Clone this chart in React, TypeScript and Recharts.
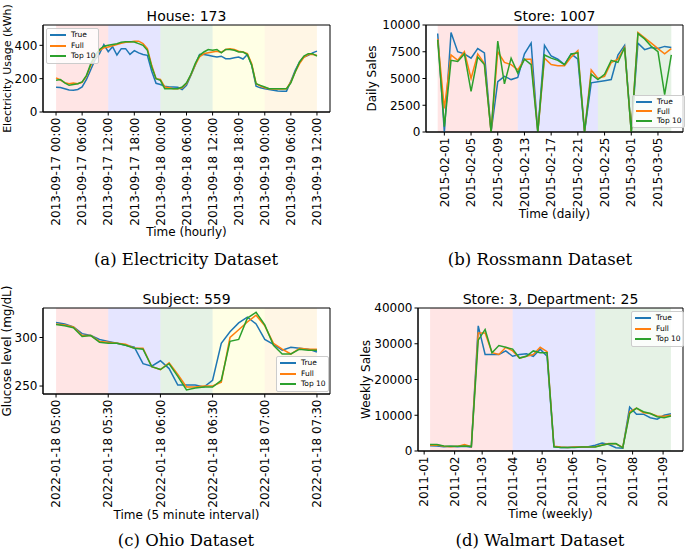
import React from "react";
import { LineChart, Line, XAxis, YAxis, ReferenceArea, Legend } from "recharts";

const C_TRUE = "#1f77b4";
const C_FULL = "#ff7f0e";
const C_TOP = "#2ca02c";
const FONT = "DejaVu Sans, sans-serif";
const BAND_COLORS = ["red", "blue", "green", "yellow", "orange"];
const SERIES_ORDER = ["True", "Full", "Top 10"];

// (a) Electricity, hourly, hour 0 = 2013-09-17 00:00
const trueA = [148, 147, 140, 132, 131, 135, 150, 195, 255, 315, 350, 405, 362, 392, 342, 380, 380, 346, 368, 355, 345, 340, 245, 172, 165, 155, 150, 150, 148, 135, 160, 220, 280, 345, 345, 340, 335, 330, 335, 320, 320, 325, 330, 318, 345, 280, 155, 145, 140, 135, 130, 126, 125, 125, 185, 250, 300, 330, 340, 355, 365];
const fullA = [205, 192, 176, 170, 174, 170, 178, 215, 280, 330, 370, 385, 390, 398, 405, 412, 418, 420, 425, 425, 410, 380, 280, 200, 195, 150, 145, 140, 140, 145, 170, 222, 282, 330, 350, 355, 360, 365, 358, 375, 380, 375, 365, 360, 350, 290, 170, 155, 145, 140, 138, 138, 138, 140, 180, 240, 290, 328, 345, 345, 340];
const topA = [190, 195, 175, 160, 165, 170, 180, 220, 290, 340, 375, 395, 400, 405, 410, 418, 422, 422, 420, 410, 400, 370, 270, 200, 190, 140, 140, 140, 140, 150, 175, 225, 290, 340, 360, 375, 370, 375, 355, 375, 375, 370, 360, 360, 345, 280, 170, 160, 150, 140, 140, 140, 140, 140, 175, 240, 300, 335, 350, 350, 335];
const ticksA = [0, 6, 12, 18, 24, 30, 36, 42, 48, 54, 60];
const labelsA = ["2013-09-17 00:00", "2013-09-17 06:00", "2013-09-17 12:00", "2013-09-17 18:00", "2013-09-18 00:00", "2013-09-18 06:00", "2013-09-18 12:00", "2013-09-18 18:00", "2013-09-19 00:00", "2013-09-19 06:00", "2013-09-19 12:00"];
const bandsA: [number, number][] = [[0, 12], [12, 24], [24, 36], [36, 48], [48, 60]];

// (b) Rossmann, daily, day 0 = 2015-02-01 (first point is 2015-01-31)
const trueB = [9200, 0, 9300, 7500, 7300, 6900, 7800, 7400, 0, 4700, 5200, 4900, 5100, 7300, 8300, 0, 8100, 7100, 6800, 6300, 7300, 6800, 0, 4600, 4700, 4800, 4900, 7200, 8100, 0, 8300, 7700, 7900, 7800, 8000, 7900];
const fullB = [8700, 2200, 7200, 6700, 7500, 5000, 7300, 6400, 0, 7500, 6500, 6300, 5800, 6800, 6800, 0, 6900, 6300, 6200, 6200, 7000, 7600, 0, 5800, 5000, 5200, 6500, 6800, 7900, 0, 9300, 8800, 8300, 7800, 7300, 7800];
const topB = [8600, 500, 6700, 6600, 7300, 3800, 7000, 6300, 0, 8500, 4500, 6900, 5500, 6800, 6300, 0, 7200, 6900, 6700, 6300, 7300, 7400, 0, 5400, 4900, 5400, 6700, 6500, 7900, 0, 9200, 8700, 8000, 7500, 3500, 7200];
const ticksB = [0, 4, 8, 12, 16, 20, 24, 28, 32];
const labelsB = ["2015-02-01", "2015-02-05", "2015-02-09", "2015-02-13", "2015-02-17", "2015-02-21", "2015-02-25", "2015-03-01", "2015-03-05"];
const bandsB: [number, number][] = [[-1, 11], [11, 23], [23, 34]];

// (c) Ohio, 5 minute steps, step 0 = 2022-01-18 05:00
const trueC = [315.4, 314, 311, 304, 302, 298, 296, 294, 292, 290, 273, 270.5, 276, 268, 251, 251, 251, 249, 256, 294, 306, 315, 321, 314, 298, 293, 287, 290, 289, 288, 285];
const fullC = [314, 313, 311, 302, 302, 296, 295, 294, 293, 289, 289, 270, 267, 274, 262, 249, 249, 250, 250, 254, 300, 308, 316, 323, 312, 294, 288, 283, 289, 288, 288];
const topC = [313.5, 312, 310, 301, 302, 295, 294, 294, 292, 289, 288, 270, 267, 273, 260, 246, 248, 249, 249, 256, 296, 298, 320, 326, 313, 292, 283, 283, 288, 287, 287];
const ticksC = [0, 6, 12, 18, 24, 30];
const labelsC = ["2022-01-18 05:00", "2022-01-18 05:30", "2022-01-18 06:00", "2022-01-18 06:30", "2022-01-18 07:00", "2022-01-18 07:30"];
const bandsC: [number, number][] = [[0, 6], [6, 12], [12, 18], [18, 24], [24, 30]];

// (d) Walmart, weekly (Fridays from 2011-01-07), x = days since 2011-01-01
const trueD = [1500, 1400, 1200, 1300, 1200, 1300, 1100, 35000, 27000, 27000, 27000, 28000, 26500, 27000, 27200, 26500, 28500, 26500, 1200, 1000, 1000, 1100, 1100, 1200, 1600, 2200, 1800, 900, 800, 12300, 10300, 10300, 9300, 8900, 10000, 10400];
const fullD = [1600, 1700, 1300, 1200, 1300, 1800, 1200, 33000, 33000, 27500, 27000, 29000, 28000, 26000, 26500, 27000, 29000, 27800, 1300, 1100, 1000, 1100, 1100, 1100, 1200, 1700, 2100, 2000, 1000, 11000, 12000, 10700, 10500, 9800, 9700, 10000];
const topD = [1800, 1800, 1400, 1300, 1300, 1400, 1300, 31000, 34000, 27500, 29500, 29000, 28500, 26000, 26500, 28000, 27500, 27500, 1200, 1000, 1000, 1000, 1100, 1100, 1100, 1600, 2000, 2100, 900, 10500, 12000, 11000, 10500, 9600, 9300, 9800];
const ticksD = [0, 31, 59, 90, 120, 151, 181, 212, 243];
const labelsD = ["2011-01", "2011-02", "2011-03", "2011-04", "2011-05", "2011-06", "2011-07", "2011-08", "2011-09"];
const bandsD: [number, number][] = [[6, 90], [90, 174], [174, 251]];

type Row = { x: number; t: number; f: number; p: number };

const rowsA: Row[] = trueA.map((v, i) => ({ x: i, t: v, f: fullA[i], p: topA[i] }));
const rowsB: Row[] = trueB.map((v, i) => ({ x: i - 1, t: v, f: fullB[i], p: topB[i] }));
const rowsC: Row[] = trueC.map((v, i) => ({ x: i, t: v, f: fullC[i], p: topC[i] }));
const rowsD: Row[] = trueD.map((v, i) => ({ x: 6 + 7 * i, t: v, f: fullD[i], p: topD[i] }));

function rotatedTick(ticks: number[], labels: string[]) {
  return (props: any) => {
    const { x, y, payload } = props;
    const i = ticks.indexOf(payload.value);
    return (
      <text
        x={x}
        y={y}
        transform={`rotate(-90, ${x}, ${y})`}
        textAnchor="end"
        dy="0.35em"
        fontSize={12}
        fontFamily={FONT}
        fill="#000"
      >
        {labels[i]}
      </text>
    );
  };
}

function LegendBox({ payload, rowH }: { payload?: any[]; rowH: number }) {
  // recharts sorts legend items by name; put them back in plotting order
  const items = [...(payload || [])].sort(
    (a, b) => SERIES_ORDER.indexOf(a.value) - SERIES_ORDER.indexOf(b.value)
  );
  return (
    <div
      style={{
        border: "1px solid #cccccc",
        borderRadius: 2,
        background: "rgba(255,255,255,0.8)",
        padding: "1px 2px 1px 3px",
        fontFamily: FONT,
        fontSize: 7.5,
        lineHeight: `${rowH}px`,
        color: "#000",
      }}
    >
      {items.map((e: any) => (
        <div key={e.value} style={{ display: "flex", alignItems: "center", whiteSpace: "nowrap" }}>
          <span style={{ display: "inline-block", flexShrink: 0, width: 16, height: 2, background: e.color, marginRight: 5 }} />
          <span>{e.value}</span>
        </div>
      ))}
    </div>
  );
}

interface PanelProps {
  left: number;
  top: number;
  width: number;
  height: number;
  marginTop: number;
  marginRight: number;
  yWidth: number;
  xHeight: number;
  data: Row[];
  xDomain: [number, number];
  yDomain: [number, number];
  xTicks: number[];
  xLabels: string[];
  yTicks: number[];
  bands: [number, number][];
  xLabel: string;
  yLabel: string;
  yLabelOffset: number;
  yLabelSize: number;
  title: string;
  legendLeft: number;
  legendTop: number;
  legendRowH: number;
}

function Panel(p: PanelProps) {
  const plotLeft = p.yWidth;
  const plotWidth = p.width - p.yWidth - p.marginRight;
  return (
    <div style={{ position: "absolute", left: p.left, top: p.top, width: p.width, height: p.height }}>
      <div
        style={{
          position: "absolute",
          left: plotLeft,
          width: plotWidth,
          top: p.marginTop - 16,
          textAlign: "center",
          fontFamily: FONT,
          fontSize: 14,
          lineHeight: "14px",
          color: "#000",
          whiteSpace: "nowrap",
        }}
      >
        {p.title}
      </div>
      <LineChart
        width={p.width}
        height={p.height}
        data={p.data}
        margin={{ top: p.marginTop, right: p.marginRight, left: 0, bottom: 0 }}
      >
        {p.bands.map((b, i) => (
          <ReferenceArea
            key={i}
            x1={b[0]}
            x2={b[1]}
            fill={BAND_COLORS[i]}
            fillOpacity={0.1}
            stroke="none"
            ifOverflow="hidden"
          />
        ))}
        <XAxis
          type="number"
          dataKey="x"
          domain={p.xDomain}
          allowDataOverflow
          ticks={p.xTicks}
          interval={0}
          height={p.xHeight}
          tickSize={3.5}
          tickMargin={2}
          tick={rotatedTick(p.xTicks, p.xLabels)}
          tickLine={{ stroke: "#000" }}
          axisLine={{ stroke: "#000" }}
          label={{ value: p.xLabel, position: "insideBottom", offset: 4, fill: "#000", fontSize: 12, fontFamily: FONT }}
        />
        <YAxis
          type="number"
          domain={p.yDomain}
          allowDataOverflow
          ticks={p.yTicks}
          interval={0}
          width={p.yWidth}
          tickSize={3.5}
          tickMargin={2}
          tick={{ fill: "#000", fontSize: 12, fontFamily: FONT }}
          tickLine={{ stroke: "#000" }}
          axisLine={{ stroke: "#000" }}
          label={{
            value: p.yLabel,
            angle: -90,
            position: "insideLeft",
            offset: p.yLabelOffset,
            fill: "#000",
            fontSize: p.yLabelSize,
            fontFamily: FONT,
            style: { textAnchor: "middle" },
          }}
        />
        <Line type="linear" dataKey="t" name="True" stroke={C_TRUE} strokeWidth={1.5} dot={false} activeDot={false} isAnimationActive={false} />
        <Line type="linear" dataKey="f" name="Full" stroke={C_FULL} strokeWidth={1.5} dot={false} activeDot={false} isAnimationActive={false} />
        <Line type="linear" dataKey="p" name="Top 10" stroke={C_TOP} strokeWidth={1.5} dot={false} activeDot={false} isAnimationActive={false} />
        <ReferenceArea
          x1={p.xDomain[0]}
          x2={p.xDomain[1]}
          y1={p.yDomain[0]}
          y2={p.yDomain[1]}
          fill="none"
          stroke="#000"
          strokeWidth={1}
        />
        <Legend
          layout="horizontal"
          verticalAlign="middle"
          align="center"
          wrapperStyle={{ left: p.legendLeft, top: p.legendTop, width: "auto" }}
          content={(props: any) => <LegendBox payload={props.payload} rowH={p.legendRowH} />}
        />
      </LineChart>
    </div>
  );
}

function Caption({ text, cx, top }: { text: string; cx: number; top: number }) {
  return (
    <div
      style={{
        position: "absolute",
        left: cx - 150,
        width: 300,
        top,
        textAlign: "center",
        fontFamily: "DejaVu Serif, serif",
        fontSize: 16.5,
        lineHeight: "17px",
        color: "#000",
      }}
    >
      {text}
    </div>
  );
}

export default function App() {
  return (
    <div style={{ position: "absolute", left: 0, top: 0, width: 685, height: 551, background: "#fff", overflow: "hidden" }}>
      <Panel
        left={0} top={0} width={340} height={240} marginTop={25} marginRight={10}
        yWidth={43} xHeight={128}
        data={rowsA} xDomain={[-3, 63]} yDomain={[0, 522]}
        xTicks={ticksA} xLabels={labelsA} yTicks={[0, 200, 400]} bands={bandsA}
        xLabel="Time (hourly)" yLabel="Electricity Usage (kWh)" yLabelOffset={7} yLabelSize={11}
        title="House: 173" legendLeft={46} legendTop={28} legendRowH={10.5}
      />
      <Panel
        left={340} top={0} width={345} height={222} marginTop={25} marginRight={2}
        yWidth={86} xHeight={90}
        data={rowsB} xDomain={[-2.75, 35.75]} yDomain={[0, 10000]}
        xTicks={ticksB} xLabels={labelsB} yTicks={[0, 2500, 5000, 7500, 10000]} bands={bandsB}
        xLabel="Time (daily)" yLabel="Daily Sales" yLabelOffset={32} yLabelSize={12}
        title="Store: 1007" legendLeft={292} legendTop={95} legendRowH={9.5}
      />
      <Panel
        left={0} top={270} width={340} height={253} marginTop={38} marginRight={10}
        yWidth={43} xHeight={129}
        data={rowsC} xDomain={[-1.5, 31.5]} yDomain={[241.8, 330.4]}
        xTicks={ticksC} xLabels={labelsC} yTicks={[250, 300]} bands={bandsC}
        xLabel="Time (5 minute interval)" yLabel="Glucose level (mg/dL)" yLabelOffset={7} yLabelSize={12}
        title="Subject: 559" legendLeft={276} legendTop={86} legendRowH={10.5}
      />
      <Panel
        left={340} top={270} width={345} height={252} marginTop={38} marginRight={2}
        yWidth={78} xHeight={71}
        data={rowsD} xDomain={[-6.25, 263.25]} yDomain={[0, 40000]}
        xTicks={ticksD} xLabels={labelsD} yTicks={[0, 10000, 20000, 30000, 40000]} bands={bandsD}
        xLabel="Time (weekly)" yLabel="Weekly Sales" yLabelOffset={26} yLabelSize={12}
        title="Store: 3, Department: 25" legendLeft={291} legendTop={41} legendRowH={10.5}
      />
      <Caption text="(a) Electricity Dataset" cx={186} top={251} />
      <Caption text="(b) Rossmann Dataset" cx={540} top={251} />
      <Caption text="(c) Ohio Dataset" cx={186} top={532} />
      <Caption text="(d) Walmart Dataset" cx={540} top={532} />
    </div>
  );
}
